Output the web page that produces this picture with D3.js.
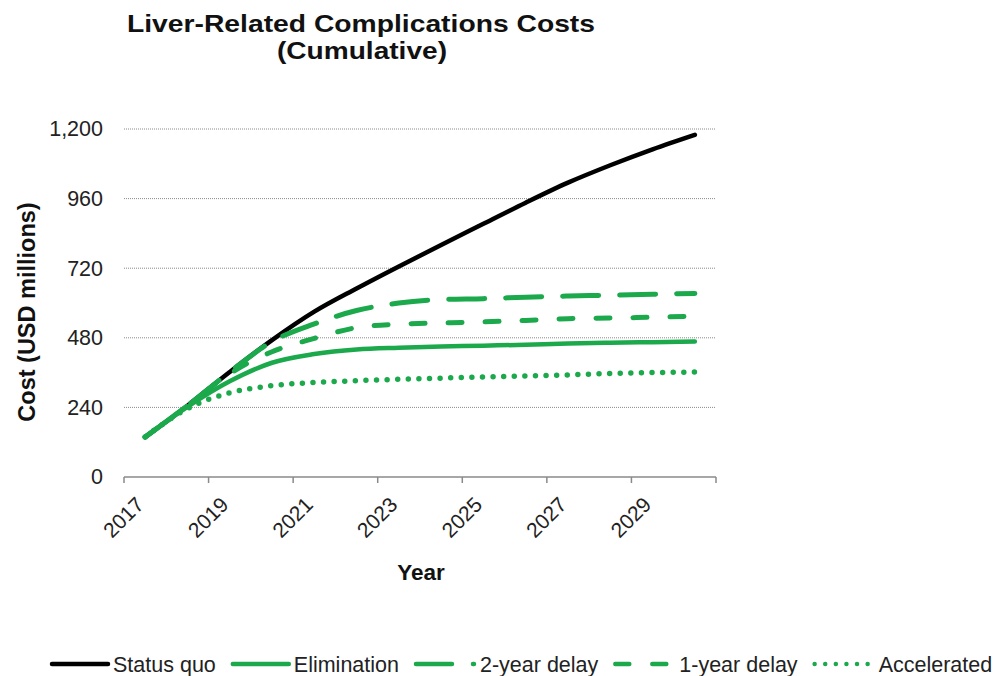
<!DOCTYPE html>
<html>
<head>
<meta charset="utf-8">
<script src="https://cdn.jsdelivr.net/npm/d3@7"></script>
<style>
  html, body { margin: 0; padding: 0; background: #ffffff; }
  svg { display: block; }
  text { font-family: "Liberation Sans", Arial, Helvetica, sans-serif; }
</style>
</head>
<body>
<svg id="chart" width="1007" height="676"></svg>
<script>
// Cumulative cost of liver-related complications, USD millions
const years = [2017, 2018, 2019, 2020, 2021, 2022, 2023, 2024, 2025, 2026, 2027, 2028, 2029, 2030];
const statusQuo    = [138, 246, 362, 472, 570, 650, 726, 800, 873, 946, 1015, 1075, 1130, 1180];
const elimination  = [138, 242, 330, 394, 424, 440, 446, 450, 453, 456, 460, 463, 465, 467];
const twoYearDelay = [138, 246, 362, 467, 528, 574, 600, 612, 615, 620, 624, 627, 630, 633];
const oneYearDelay = [138, 246, 356, 432, 478, 515, 527, 531, 535, 540, 546, 548, 551, 554];
const accelerated  = [138, 236, 290, 315, 326, 332, 337, 341, 345, 348, 352, 357, 360, 362];
const yTicks = [0, 240, 480, 720, 960, 1200];
const labelYears = [2017, 2019, 2021, 2023, 2025, 2027, 2029];
const seriesNames = ["Status quo", "Elimination", "2-year delay", "1-year delay", "Accelerated"];

const GREEN = "#1ba94c";
const styles = [
  { color: "#000000", dash: null, width: 4.5 },
  { color: GREEN, dash: null, width: 4.5 },
  { color: GREEN, dash: "36,21", width: 5 },
  { color: GREEN, dash: "14,23", width: 5 },
  { color: GREEN, dash: "0,10.6", width: 5.5 }
];
const seriesValues = [statusQuo, elimination, twoYearDelay, oneYearDelay, accelerated];

const svg = d3.select("#chart");
const plot = { left: 124, right: 716, top: 129, bottom: 477 };

const xBand = d3.scaleBand().domain(years).range([plot.left, plot.right]).padding(0);
const x = d3.scalePoint().domain(years).range([plot.left, plot.right]).padding(0.5);
const y = d3.scaleLinear().domain([0, 1200]).range([plot.bottom, plot.top]);

// Title
const title = svg.append("g").attr("font-weight", "bold").attr("fill", "#111").attr("text-anchor", "middle");
title.append("text").attr("x", 361).attr("y", 32).attr("font-size", 24)
  .attr("textLength", 468).attr("lengthAdjust", "spacingAndGlyphs")
  .text("Liver-Related Complications Costs");
title.append("text").attr("x", 362).attr("y", 59).attr("font-size", 24)
  .attr("textLength", 170).attr("lengthAdjust", "spacingAndGlyphs")
  .text("(Cumulative)");

// Horizontal gridlines
svg.append("g").selectAll("line")
  .data(yTicks.filter(d => d > 0))
  .join("line")
  .attr("x1", plot.left).attr("x2", plot.right)
  .attr("y1", d => y(d)).attr("y2", d => y(d))
  .attr("stroke", "#8a8a8a").attr("stroke-width", 1).attr("stroke-dasharray", "1,1");

// Y axis labels
const yAxis = svg.append("g")
  .attr("transform", `translate(${plot.left},0)`)
  .call(d3.axisLeft(y).tickValues(yTicks).tickSize(0).tickPadding(21).tickFormat(d3.format(",")));
yAxis.select(".domain").remove();
yAxis.selectAll("text").attr("font-size", 21.5).attr("fill", "#222")
  .attr("font-family", "Liberation Sans, Arial, sans-serif");

// X axis line and tick marks between category pairs
svg.append("line")
  .attr("x1", plot.left).attr("x2", plot.right)
  .attr("y1", plot.bottom).attr("y2", plot.bottom)
  .attr("stroke", "#8a8a8a").attr("stroke-width", 1.5);
const tickPos = years.filter((d, i) => i % 2 === 0).map(d => xBand(d)).concat([xBand.range()[1]]);
svg.append("g").selectAll("line")
  .data(tickPos)
  .join("line")
  .attr("x1", d => d).attr("x2", d => d)
  .attr("y1", plot.bottom).attr("y2", plot.bottom + 6)
  .attr("stroke", "#8a8a8a").attr("stroke-width", 1.5);

// X axis labels, rotated
svg.append("g").selectAll("text")
  .data(labelYears)
  .join("text")
  .attr("transform", d => `translate(${x(d)},${plot.bottom + 29}) rotate(-45)`)
  .attr("text-anchor", "end")
  .attr("font-size", 21)
  .attr("fill", "#222")
  .text(d => d);

// Axis titles
svg.append("text")
  .attr("x", 421).attr("y", 580)
  .attr("text-anchor", "middle").attr("font-weight", "bold").attr("font-size", 22.5).attr("fill", "#111")
  .text("Year");
svg.append("text")
  .attr("transform", "translate(35,312) rotate(-90)")
  .attr("text-anchor", "middle").attr("font-weight", "bold").attr("font-size", 23.5).attr("fill", "#111")
  .text("Cost (USD millions)");

// Series lines
const line = d3.line()
  .x((d, i) => x(years[i]))
  .y(d => y(d))
  .curve(d3.curveMonotoneX);

svg.append("g").selectAll("path")
  .data(seriesValues)
  .join("path")
  .attr("d", d => line(d))
  .attr("fill", "none")
  .attr("stroke", (d, i) => styles[i].color)
  .attr("stroke-width", (d, i) => styles[i].width)
  .attr("stroke-linecap", "round")
  .attr("stroke-linejoin", "round")
  .attr("stroke-dasharray", (d, i) => styles[i].dash);

// Legend
const legend = svg.append("g").attr("transform", "translate(0,664)");
let lx = 50;
seriesNames.forEach((name, i) => {
  const item = legend.append("g");
  item.append("line")
    .attr("x1", lx + 2).attr("x2", lx + (i === 2 ? 60 : 58))
    .attr("y1", 0).attr("y2", 0)
    .attr("stroke", styles[i].color)
    .attr("stroke-width", 4.5)
    .attr("stroke-linecap", "round")
    .attr("stroke-dasharray", styles[i].dash);
  const tx = lx + (i < 2 ? 63 : 66);
  const t = item.append("text")
    .attr("x", tx).attr("y", 7.5)
    .attr("font-size", 21.5).attr("fill", "#222")
    .text(name);
  lx = tx + t.node().getComputedTextLength() + 15;
});
</script>
</body>
</html>
